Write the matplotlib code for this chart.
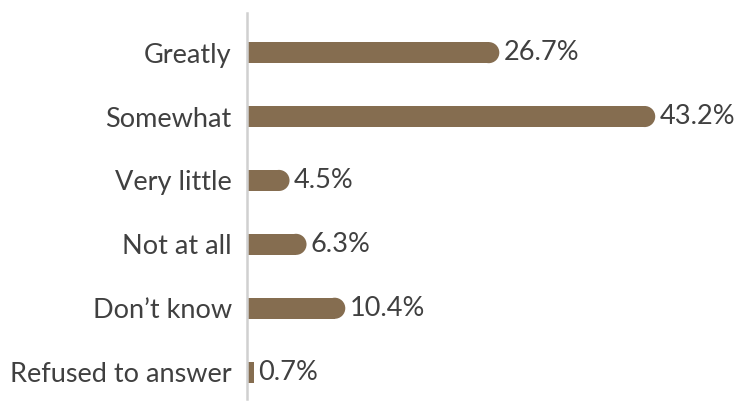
import matplotlib.pyplot as plt
from matplotlib.patches import Ellipse

categories = ["Greatly", "Somewhat", "Very little", "Not at all", "Don\u2019t know", "Refused to answer"]
values = [26.7, 43.2, 4.5, 6.3, 10.4, 0.7]
labels = ["26.7%", "43.2%", "4.5%", "6.3%", "10.4%", "0.7%"]

bar_color = "#856d50"
text_color = "#404040"
plt.rcParams["font.family"] = ["Lato", "DejaVu Sans"]

fig = plt.figure(figsize=(7.39, 4.01), dpi=100)
ax = fig.add_axes([247 / 739, 2 / 401, 492 / 739, 386 / 401])

xmax = 492 / 9.45
ax.set_xlim(0, xmax)
ax.set_ylim(5.42, -0.62)

h = 0.33
# radius of the rounded end, in data units along x
r = (h / 2) * (386 / 6.04) / 9.45

for i, v in enumerate(values):
    if v > 2 * r:
        ax.barh(i, v - r, height=h, color=bar_color, linewidth=0)
        ax.add_patch(Ellipse((v - r, i), 2 * r, h, color=bar_color, linewidth=0))
    else:
        ax.barh(i, v, height=h, color=bar_color, linewidth=0)
    ax.annotate(labels[i], (v, i), xytext=(3, 0), textcoords="offset points",
                ha="left", va="center", fontsize=19.5, color=text_color)

ax.set_yticks(range(len(categories)))
ax.set_yticklabels(categories, fontsize=19.5, color=text_color)
ax.tick_params(axis="y", length=0, pad=11)
ax.set_xticks([])

for s in ["top", "right", "bottom"]:
    ax.spines[s].set_visible(False)
ax.spines["left"].set_color("#d0d0d0")
ax.spines["left"].set_linewidth(1.8)

fig.savefig("out.png", dpi=100)
